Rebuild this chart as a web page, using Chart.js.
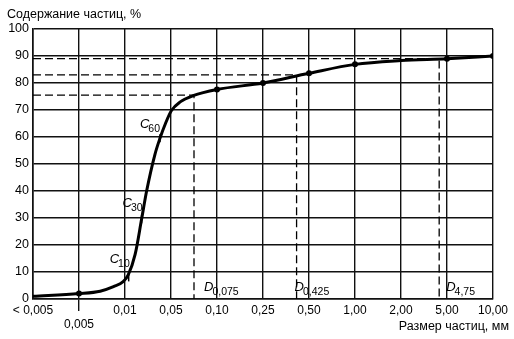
<!DOCTYPE html>
<html>
<head>
<meta charset="utf-8">
<script src="https://cdn.jsdelivr.net/npm/chart.js@4"></script>
<style>
  body { margin: 0; background: #fff; }
</style>
</head>
<body>
<canvas id="psdChart" width="514" height="339"></canvas>
<script>
// Tick labels of the size axis (evenly spaced, position = index)
const sizeLabels = ["< 0,005", "0,005", "0,01", "0,05", "0,10", "0,25", "0,50", "1,00", "2,00", "5,00", "10,00"];

// Grading curve, x in label-index units, y in %
const curveX = [0, 1, 1.46, 1.75, 1.96, 2.07, 2.22, 2.36, 2.47, 2.65, 2.76, 2.88, 3.01, 3.2, 3.48, 4, 5, 6, 7, 8, 9, 10];
const curveY = [1, 2, 2.9, 4.6, 6.4, 8.9, 16.5, 29.5, 40, 53.5, 59.5, 65, 69.8, 73, 75.3, 77.6, 80, 83.6, 86.9, 88.3, 89, 90];
// which curve points carry a dot
const dotX = [1, 4, 5, 6, 7, 9, 10];

// C10 / C30 / C60 marks on the curve
const cNames = ["10", "30", "60"];
const cX = [2.08, 2.36, 2.76];
const cY = [8, 29.5, 59.5];

// D0,075 / D0,425 / D4,75 guide lines
const dNames = ["0,075", "0,425", "4,75"];
const dX = [3.5, 5.73, 8.83];
const dY = [75.5, 83, 89];

const FONT = "'Liberation Sans', Arial, sans-serif";

const guideSets = dX.map((x, i) => ({
  data: [{ x: 0, y: dY[i] }, { x: x, y: dY[i] }, { x: x, y: 0 }],
  borderColor: "#000",
  borderWidth: 1.3,
  borderDash: [8, 4],
  pointRadius: 0,
  tension: 0
}));

// texts: titles, C and D labels
const textPlugin = {
  id: "texts",
  afterDraw(chart) {
    const c = chart.ctx;
    const xs = chart.scales.x, ys = chart.scales.y;
    c.save();
    c.fillStyle = "#000";
    c.textBaseline = "alphabetic";
    c.font = "12.5px " + FONT;
    c.textAlign = "left";
    c.fillText("Содержание частиц, %", 7, 18);
    c.textAlign = "right";
    c.fillText("Размер частиц, мм", 509, 330);

    function sub(letter, s, x, y) {
      c.textAlign = "left";
      c.font = "italic 13px " + FONT;
      c.fillText(letter, x, y);
      const w = c.measureText(letter).width;
      c.font = "10.5px " + FONT;
      c.fillText(s, x + w - 1, y + 4);
    }
    const cOff = [[-19, -14], [-19, -12], [-20, -10]];
    cNames.forEach((n, i) => {
      sub("C", n, xs.getPixelForValue(cX[i]) + cOff[i][0], ys.getPixelForValue(cY[i]) + cOff[i][1]);
    });
    const dOff = [10, -2, 7];
    dNames.forEach((n, i) => {
      sub("D", n, xs.getPixelForValue(dX[i]) + dOff[i], ys.getPixelForValue(0) - 8);
    });
    c.restore();
  }
};

new Chart(document.getElementById("psdChart"), {
  type: "line",
  data: {
    datasets: [
      {
        data: curveX.map((x, i) => ({ x: x, y: curveY[i] })),
        borderColor: "#000",
        backgroundColor: "#000",
        borderWidth: 3,
        cubicInterpolationMode: "monotone",
        pointBorderWidth: 0,
        pointRadius: curveX.map(x => dotX.includes(x) ? 3 : 0)
      },
      {
        data: cX.map((x, i) => ({ x: x, y: cY[i] })),
        showLine: false,
        pointStyle: "line",
        rotation: 90,
        pointRadius: 4,
        borderColor: "#000",
        borderWidth: 1.5
      },
      ...guideSets
    ]
  },
  options: {
    responsive: false,
    animation: false,
    maintainAspectRatio: false,
    layout: { padding: { top: 29, right: 21, left: 0, bottom: 0 } },
    plugins: { legend: { display: false }, tooltip: { enabled: false } },
    scales: {
      x: {
        type: "linear",
        min: 0,
        max: 10,
        afterFit: s => { s.height = 40; },
        ticks: {
          stepSize: 1,
          autoSkip: false,
          maxRotation: 0,
          padding: -8,
          color: "#000",
          font: { family: FONT, size: 12 },
          callback: v => v === 1 ? ["", sizeLabels[1]] : sizeLabels[v]
        },
        grid: {
          color: "#111",
          lineWidth: 1.4,
          tickLength: 12,
          tickColor: ctx => ctx.index === 1 ? "#111" : "rgba(0,0,0,0)"
        },
        border: { color: "#111", width: 1.6 }
      },
      y: {
        min: 0,
        max: 100,
        afterFit: s => { s.width = 33; },
        ticks: {
          stepSize: 10,
          padding: 4,
          color: "#000",
          font: { family: FONT, size: 12.5 }
        },
        grid: { color: "#111", lineWidth: 1.4, drawTicks: false },
        border: { color: "#111", width: 1.6 }
      }
    }
  },
  plugins: [textPlugin]
});
</script>
</body>
</html>
